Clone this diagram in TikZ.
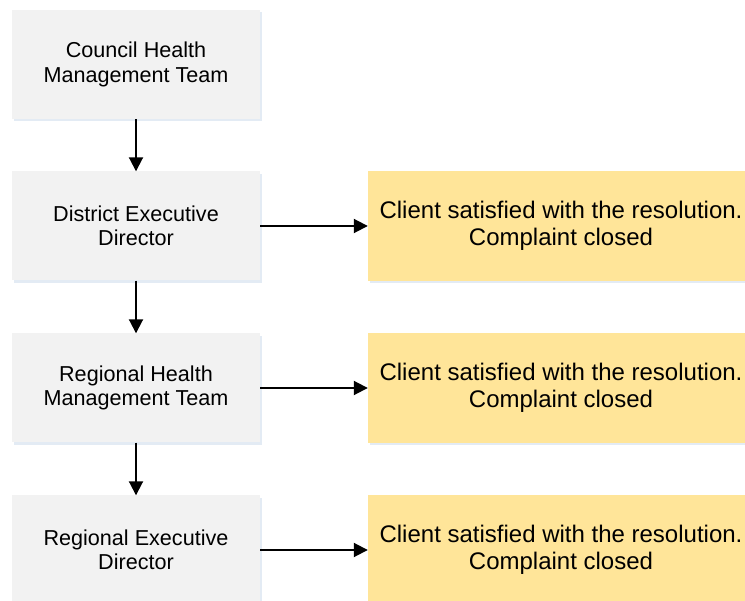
\documentclass[tikz,border=0pt]{standalone}
\usepackage{fontspec}
\setmainfont{Liberation Sans}
\usetikzlibrary{arrows.meta,shadows}
\definecolor{graybox}{HTML}{F2F2F2}
\definecolor{yellowbox}{HTML}{FFE599}
\definecolor{shadowblue}{HTML}{DCE6F2}
\begin{document}
\begin{tikzpicture}[x=1pt,y=-1pt,
  levelbox/.style={rectangle, fill=graybox, minimum width=248pt, minimum height=109pt,
    inner sep=0pt, align=center, font=\fontsize{21.6}{24.5}\selectfont,
    drop shadow={shadow xshift=1.5pt, shadow yshift=-2.5pt, fill=shadowblue, opacity=0.8}},
  closebox/.style={rectangle, fill=yellowbox, minimum width=386pt, minimum height=110pt,
    inner sep=0pt, align=center, font=\fontsize{24}{27}\selectfont,
    drop shadow={shadow xshift=1.5pt, shadow yshift=-2.5pt, fill=shadowblue, opacity=0.8}},
  flow/.style={line width=1.9pt, -{Triangle[length=14pt,width=14pt]}}
]
\useasboundingbox (0,0) rectangle (745,601);
\clip (0,0) rectangle (745,601);
\fill[white] (0,0) rectangle (745,601);

\node[levelbox] (chmt) at (136,64.5) {Council Health\\Management Team};
\node[levelbox] (ded) at (136,226) {District Executive\\Director};
\node[levelbox] (rhmt) at (136,388) {Regional Health\\Management Team};
\node[levelbox] (red) at (136,550) {Regional Executive\\Director};

\node[closebox] (c2) at (561,226) {Client satisfied with the resolution.\\Complaint closed};
\node[closebox] (c3) at (561,388) {Client satisfied with the resolution.\\Complaint closed};
\node[closebox] (c4) at (561,550) {Client satisfied with the resolution.\\Complaint closed};

\draw[flow] (chmt) -- (ded);
\draw[flow] (ded) -- (rhmt);
\draw[flow] (rhmt) -- (red);
\draw[flow] (ded) -- (c2);
\draw[flow] (rhmt) -- (c3);
\draw[flow] (red) -- (c4);
\end{tikzpicture}
\end{document}
